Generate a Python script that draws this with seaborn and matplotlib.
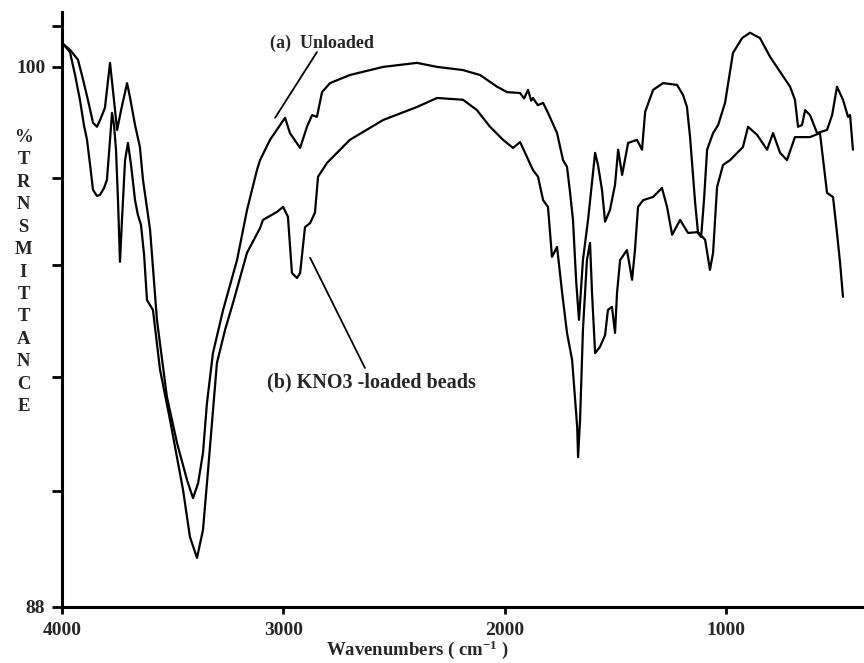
import numpy as np
import pandas as pd
import matplotlib
matplotlib.use("Agg")
import matplotlib.pyplot as plt
import seaborn as sns

# ---- data ----
wn_a = [3995, 3964, 3928, 3910, 3883, 3860, 3842, 3828, 3806, 3783, 3770, 3751, 3733, 3706, 3693,
        3670, 3648, 3634, 3602, 3571, 3526, 3480, 3435, 3408, 3385, 3363, 3345, 3318, 3272, 3209,
        3164, 3119, 3105, 3060, 2992, 2970, 2924, 2893, 2870, 2848, 2825, 2789, 2699, 2549, 2396,
        2305, 2188, 2111, 2034, 1989, 1930, 1912, 1894, 1880, 1872, 1850, 1826, 1804, 1763, 1736,
        1718, 1704, 1691, 1677, 1664, 1646, 1623, 1591, 1578, 1560, 1546, 1524, 1501, 1487, 1469,
        1442, 1402, 1379, 1365, 1329, 1284, 1221, 1194, 1176, 1162, 1139, 1126, 1112, 1099, 1085,
        1058, 1035, 1004, 968, 927, 891, 846, 800, 755, 710, 688, 674, 656, 642, 620, 588, 543,
        520, 498, 471, 448, 439, 426]
tr_a = [100.51, 100.38, 100.16, 99.82, 99.27, 98.76, 98.67, 98.82, 99.09, 100.09, 99.49, 98.6,
        99.04, 99.64, 99.33, 98.71, 98.22, 97.49, 96.38, 94.38, 92.67, 91.64, 90.82, 90.42, 90.75,
        91.42, 92.53, 93.64, 94.6, 95.71, 96.82, 97.71, 97.93, 98.38, 98.87, 98.53, 98.2, 98.67,
        98.93, 98.89, 99.44, 99.64, 99.82, 100.0, 100.09, 100.0, 99.93, 99.82, 99.56, 99.44, 99.42,
        99.3, 99.49, 99.25, 99.31, 99.15, 99.2, 98.98, 98.53, 97.93, 97.78, 97.2, 96.6, 95.27,
        94.38, 95.71, 96.6, 98.09, 97.82, 97.27, 96.56, 96.82, 97.38, 98.16, 97.6, 98.31, 98.38,
        98.16, 99.0, 99.49, 99.64, 99.6, 99.38, 99.11, 98.44, 96.98, 96.31, 96.22, 97.04, 98.16,
        98.53, 98.71, 99.2, 100.31, 100.64, 100.76, 100.64, 100.22, 99.89, 99.56, 99.27, 98.67,
        98.71, 99.04, 98.93, 98.53, 98.6, 98.93, 99.56, 99.27, 98.89, 98.93, 98.16]

wn_b = [3995, 3964, 3941, 3919, 3901, 3887, 3873, 3860, 3842, 3828, 3810, 3797, 3783, 3774, 3765,
        3756, 3747, 3738, 3729, 3715, 3702, 3688, 3670, 3657, 3643, 3629, 3616, 3589, 3557, 3512,
        3453, 3422, 3390, 3363, 3340, 3300, 3263, 3227, 3164, 3105, 3092, 3028, 3001, 2979, 2961,
        2938, 2924, 2902, 2879, 2857, 2843, 2802, 2699, 2549, 2396, 2305, 2188, 2125, 2066, 2007,
        1962, 1930, 1899, 1872, 1849, 1826, 1804, 1786, 1763, 1740, 1718, 1695, 1672, 1668, 1659,
        1646, 1628, 1614, 1605, 1591, 1569, 1546, 1533, 1515, 1501, 1492, 1478, 1447, 1424, 1411,
        1397, 1374, 1329, 1289, 1266, 1243, 1207, 1171, 1126, 1094, 1072, 1058, 1040, 1013, 981,
        923, 900, 859, 814, 787, 755, 724, 688, 620, 575, 543, 516, 498, 484, 471]
tr_b = [100.51, 100.33, 99.82, 99.27, 98.71, 98.38, 97.82, 97.27, 97.13, 97.16, 97.31, 97.49,
        98.38, 98.98, 98.71, 98.16, 97.04, 95.67, 96.6, 97.93, 98.31, 97.82, 97.04, 96.71, 96.49,
        95.82, 94.82, 94.6, 93.27, 92.16, 90.6, 89.56, 89.09, 89.71, 91.04, 93.42, 94.16, 94.76,
        95.87, 96.42, 96.6, 96.78, 96.89, 96.67, 95.42, 95.31, 95.42, 96.44, 96.53, 96.76, 97.56,
        97.87, 98.38, 98.82, 99.11, 99.31, 99.27, 99.04, 98.67, 98.38, 98.2, 98.33, 98.0, 97.71,
        97.56, 97.04, 96.89, 95.78, 96.0, 94.98, 94.09, 93.49, 92.0, 91.33, 92.16, 94.16, 95.71,
        96.09, 94.98, 93.64, 93.78, 94.04, 94.6, 94.67, 94.09, 94.98, 95.71, 95.93, 95.27, 95.93,
        96.89, 97.04, 97.11, 97.31, 96.89, 96.27, 96.6, 96.31, 96.33, 96.16, 95.49, 95.87, 97.33,
        97.82, 97.93, 98.22, 98.67, 98.49, 98.16, 98.53, 98.09, 97.93, 98.44, 98.44, 98.53, 97.2,
        97.11, 96.31, 95.64, 94.89]

series_names = ["(a)  Unloaded", "(b) KNO3 -loaded beads"]
xticks = [4000, 3000, 2000, 1000]
yticks = [88, 90.58, 93.11, 95.6, 97.53, 100, 100.91]
ytick_labels = ["88", "", "", "", "", "100", ""]
ylabel_letters = ["%", "T", "R", "N", "S", "M", "I", "T", "T", "A", "N", "C", "E"]

df = pd.concat([
    pd.DataFrame({"wn": wn_a, "T": tr_a, "sample": series_names[0]}),
    pd.DataFrame({"wn": wn_b, "T": tr_b, "sample": series_names[1]}),
])

sns.set_style("white")
plt.rcParams["font.family"] = ["Liberation Serif", "DejaVu Serif"]
plt.rcParams["font.weight"] = "bold"
plt.rcParams["mathtext.fontset"] = "custom"
plt.rcParams["mathtext.rm"] = "Liberation Serif:bold"
plt.rcParams["mathtext.it"] = "Liberation Serif:bold"
plt.rcParams["mathtext.bf"] = "Liberation Serif:bold"
plt.rcParams["mathtext.default"] = "rm"

fig = plt.figure(figsize=(8.64, 6.63), dpi=100)
ax = fig.add_axes([62 / 864, 1 - 607 / 663, 802 / 864, 595 / 663])

sns.lineplot(data=df, x="wn", y="T", hue="sample", units="sample", estimator=None, sort=False,
             palette=["black", "black"], linewidth=1.6, legend=False, ax=ax)

ax.set_xlim(4000, 376)
ax.set_ylim(88, 101.22)
ax.set_xticks(xticks)
ax.set_xticklabels([str(v) for v in xticks], fontsize=14, fontweight="bold")
ax.set_yticks(yticks)
ax.set_yticklabels(ytick_labels, fontsize=14, fontweight="bold")
ax.tick_params(axis="x", bottom=True, direction="out", length=5, width=2, pad=6, color="black")
ax.tick_params(axis="y", left=True, direction="out", length=7, width=2, pad=5, color="black")

for s in ["top", "right"]:
    ax.spines[s].set_visible(False)
for s in ["left", "bottom"]:
    ax.spines[s].set_linewidth(2.2)
    ax.spines[s].set_color("black")

ax.set_xlabel("Wavenumbers ( cm$^{-1}$ )", fontsize=13.5, fontweight="bold", va="center")
ax.xaxis.set_label_coords(0.443, -0.072)
ax.set_ylabel("\n".join(ylabel_letters), rotation=0, fontsize=13.5, fontweight="bold",
              linespacing=1.42, ha="center", va="center")
ax.yaxis.set_label_coords(-0.048, 0.563)

# annotations
ax.text(3060, 100.53, series_names[0], fontsize=13, fontweight="bold", ha="left", va="center")
ax.annotate("", xy=(3037, 98.87), xytext=(2848, 100.33),
            arrowprops=dict(arrowstyle="-", color="black", lw=1.3, shrinkA=0, shrinkB=0))
ax.text(3074, 92.98, series_names[1], fontsize=14.5, fontweight="bold", ha="left", va="center")
ax.annotate("", xy=(2879, 95.76), xytext=(2631, 93.31),
            arrowprops=dict(arrowstyle="-", color="black", lw=1.3, shrinkA=0, shrinkB=0))

fig.savefig("out.png", dpi=100)
